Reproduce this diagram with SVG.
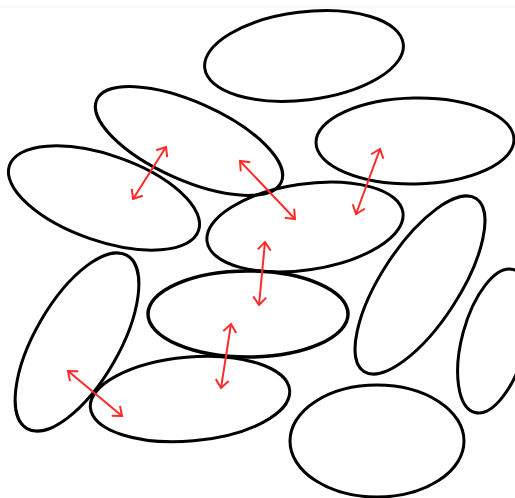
<svg xmlns="http://www.w3.org/2000/svg" width="515" height="498" viewBox="0 0 515 498">
<style>
.n{fill:none;stroke:#000;stroke-width:3}
.c{fill:none;stroke:#ff2a2a;stroke-width:2;marker-start:url(#ah);marker-end:url(#ah)}
</style>
<defs>
<marker id="ah" markerUnits="userSpaceOnUse" viewBox="-2 -9 12 18" markerWidth="12" markerHeight="18" refX="8" refY="0" orient="auto-start-reverse">
<path d="M0,-6.5 L8,0 L0,6.5" fill="none" stroke="#ff2a2a" stroke-width="2"/>
</marker>
</defs>
<rect width="515" height="498" fill="#fff"/>
<line x1="0" y1="7" x2="515" y2="7" stroke="#fdeef0" stroke-width="1"/>
<g id="n1"><ellipse class="n" cx="0" cy="0" rx="100" ry="44" transform="translate(304,56) rotate(-7)"/></g>
<g id="n2"><ellipse class="n" cx="0" cy="0" rx="101" ry="39" transform="translate(189,141) rotate(24)"/></g>
<g id="n3"><ellipse class="n" cx="0" cy="0" rx="100" ry="43" transform="translate(104,198) rotate(19)"/></g>
<g id="n4"><ellipse class="n" cx="0" cy="0" rx="99" ry="43" transform="translate(415,141) rotate(-1)"/></g>
<g id="n5"><ellipse class="n" cx="0" cy="0" rx="99" ry="43" transform="translate(305,227) rotate(-8.5)"/></g>
<g id="n6"><ellipse class="n" cx="0" cy="0" rx="100" ry="43" transform="translate(248,314)" style="stroke-width:3.5"/></g>
<g id="n7"><ellipse class="n" cx="0" cy="0" rx="100" ry="42" transform="translate(190,399) rotate(-5)"/></g>
<g id="n8"><ellipse class="n" cx="0" cy="0" rx="100" ry="42" transform="translate(77,342) rotate(-60)"/></g>
<g id="n9"><ellipse class="n" cx="0" cy="0" rx="103" ry="39" transform="translate(420,285) rotate(-57)"/></g>
<g id="n10"><ellipse class="n" cx="0" cy="0" rx="74" ry="32" transform="translate(494,341) rotate(-75)"/></g>
<g id="n11"><ellipse class="n" cx="0" cy="0" rx="87" ry="56" transform="translate(377,441)"/></g>
<g id="connectors">
<line class="c" x1="133" y1="199" x2="166" y2="147"/>
<line class="c" x1="240" y1="161" x2="295" y2="219"/>
<line class="c" x1="380" y1="149" x2="356" y2="214"/>
<line class="c" x1="265" y1="242" x2="259" y2="305"/>
<line class="c" x1="231" y1="324" x2="221" y2="388"/>
<line class="c" x1="68" y1="371" x2="122" y2="416"/>
</g>
</svg>
